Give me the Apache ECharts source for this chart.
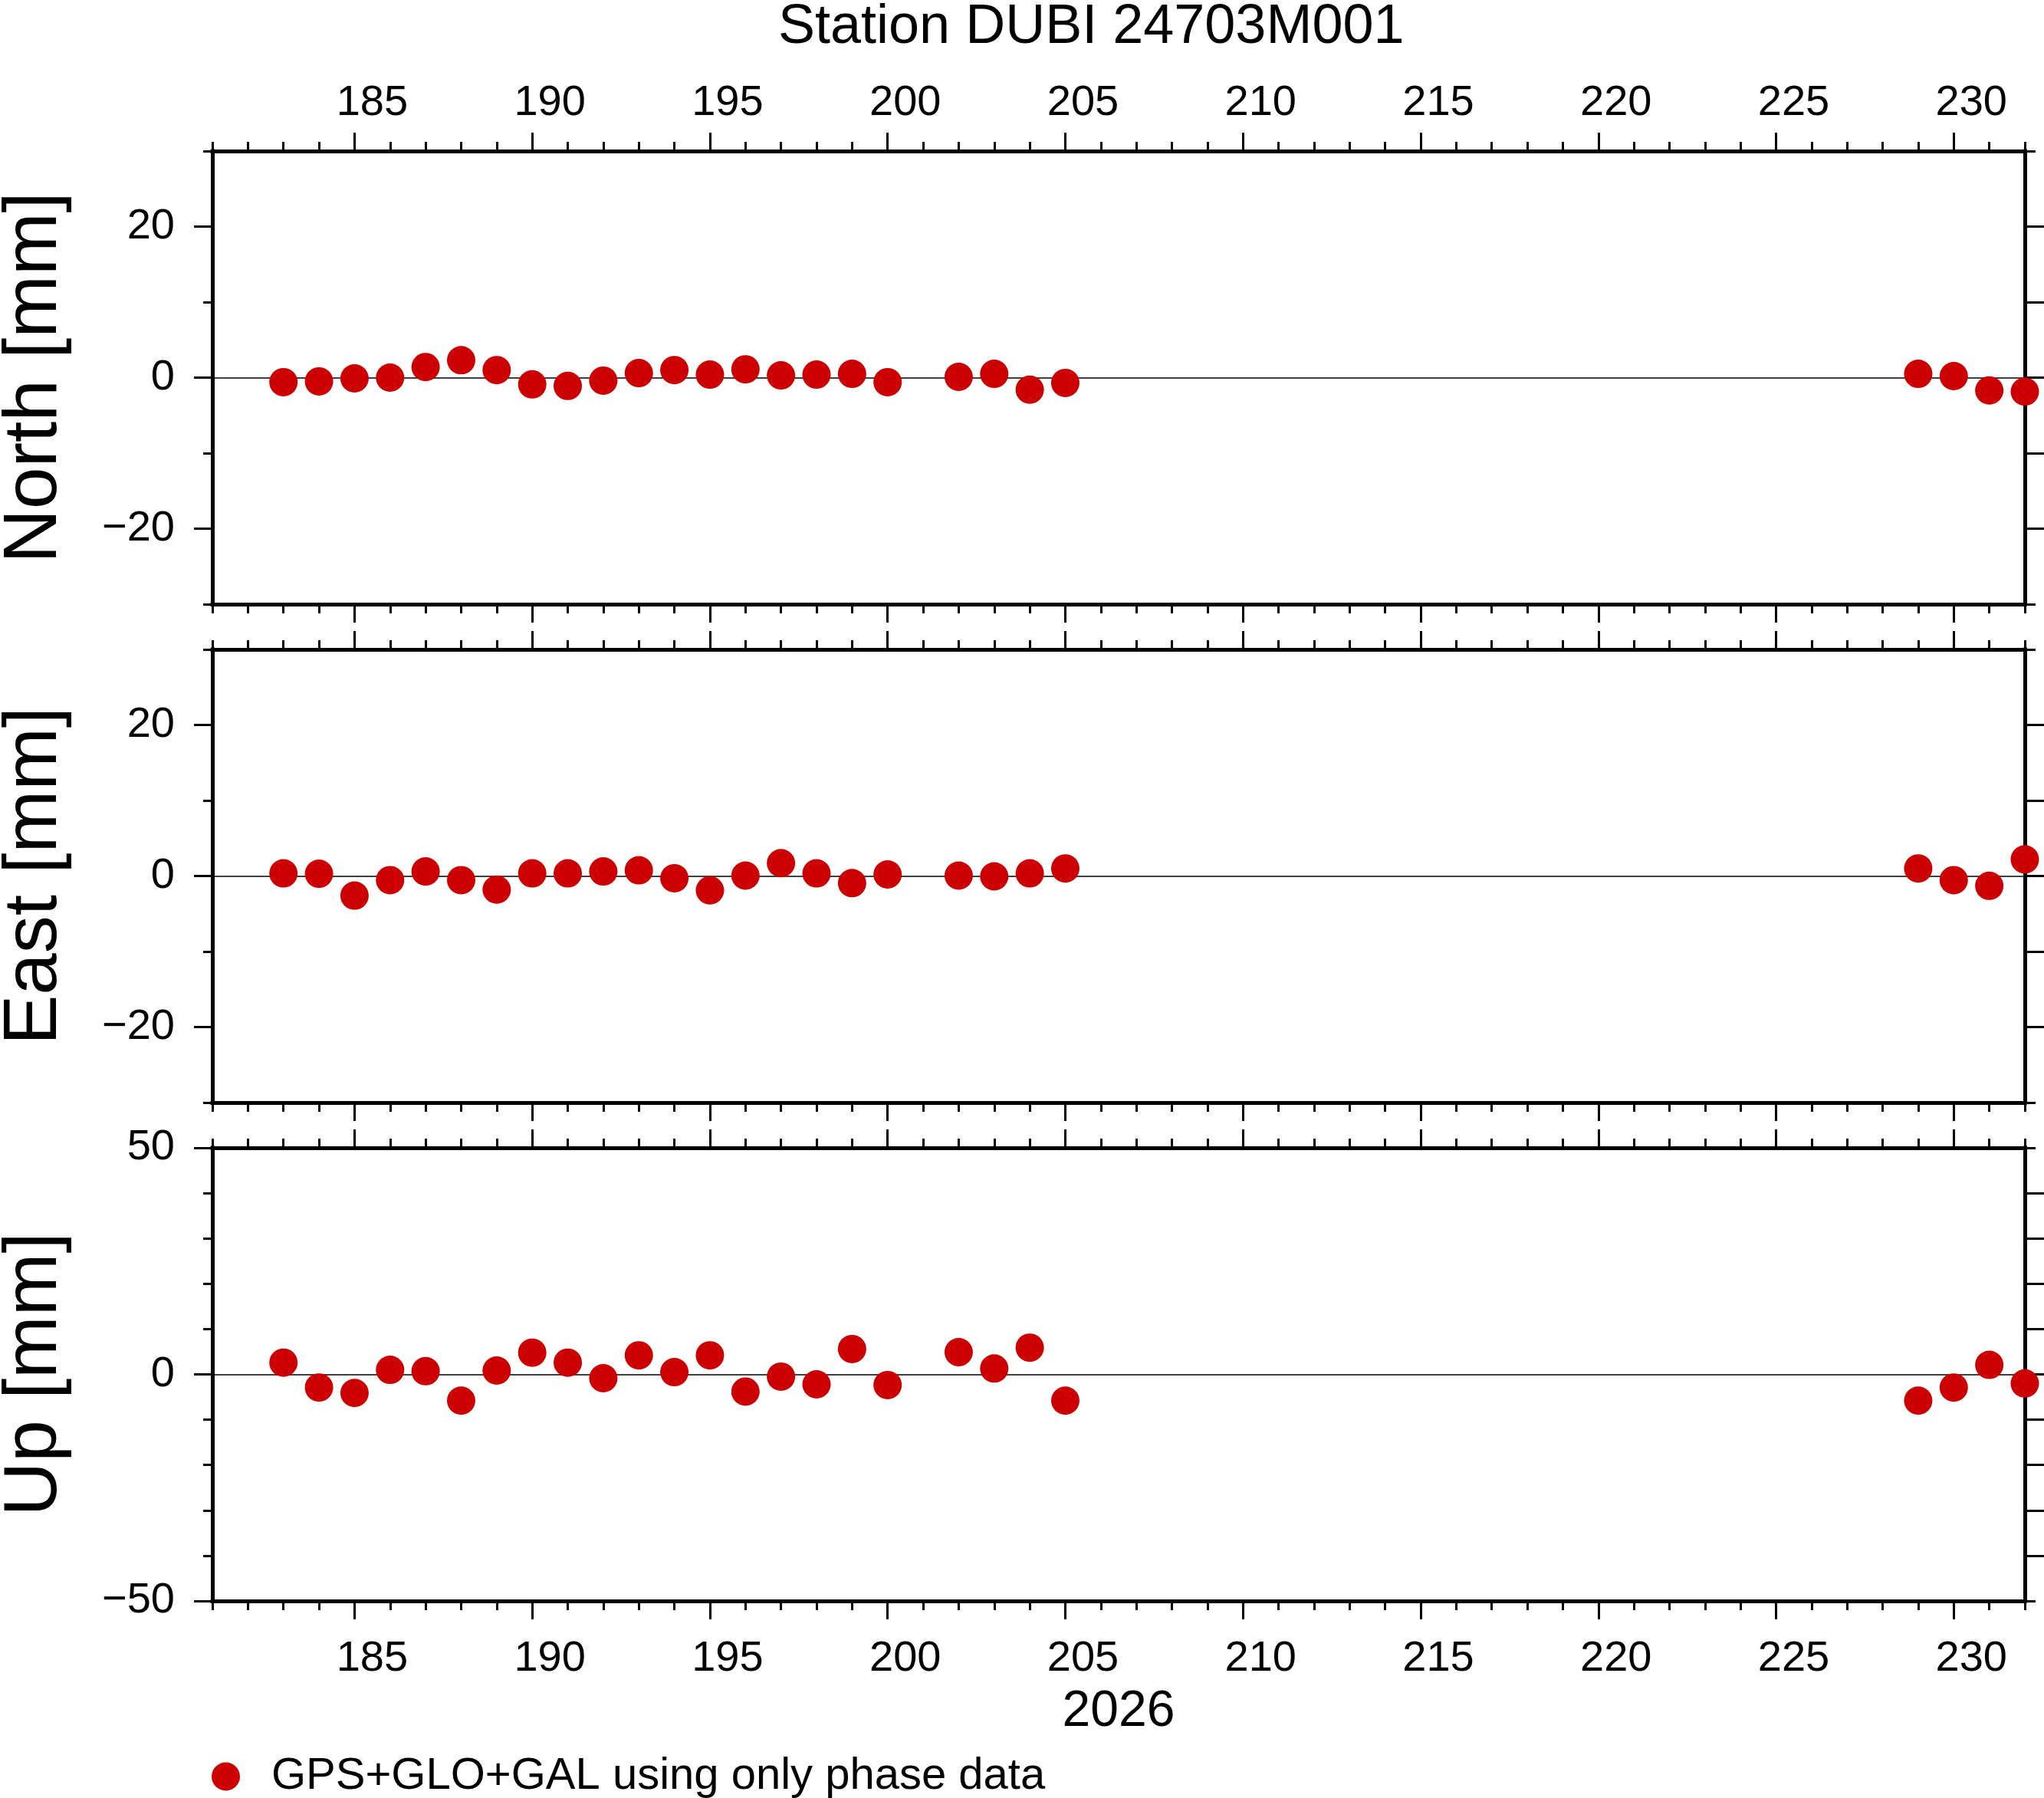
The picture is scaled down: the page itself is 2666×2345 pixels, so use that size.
<!DOCTYPE html>
<html>
<head>
<meta charset="utf-8">
<title>Station DUBI 24703M001</title>
<script src="https://cdn.jsdelivr.net/npm/echarts@6/dist/echarts.min.js"></script>
<style>
  html, body { margin: 0; padding: 0; background: #fff; }
  #chart { width: 2666px; height: 2345px; }
</style>
</head>
<body>
<div id="chart"></div>
<script>
// Station DUBI daily coordinate residuals (mm), day of year 2026

const days = [183, 184, 185, 186, 187, 188, 189, 190, 191, 192, 193, 194, 195, 196, 197, 198, 199, 200,
  202, 203, 204, 205, 229, 230, 231, 232];

const north = [-0.6, -0.5, -0.1, 0.0, 1.4, 2.3, 1.0, -0.9, -1.1, -0.4, 0.6, 1.0, 0.4, 1.1, 0.3, 0.4, 0.5, -0.6,
  0.1, 0.5, -1.6, -0.7, 0.5, 0.2, -1.7, -1.85];

const east = [0.35, 0.3, -2.6, -0.55, 0.6, -0.55, -1.8, 0.35, 0.35, 0.6, 0.75, -0.3, -1.9, 0.05, 1.7, 0.35, -0.95, 0.2,
  0.05, -0.05, 0.35, 1.0, 1.0, -0.55, -1.3, 2.2];

const up = [2.6, -2.9, -4.1, 1.0, 0.7, -5.8, 0.85, 4.8, 2.6, -0.85, 4.2, 0.5, 4.2, -3.8, -0.5, -2.2, 5.6, -2.35,
  4.9, 1.3, 5.9, -5.8, -5.8, -2.9, 2.1, -2.0];

// Axis ranges and tick labels
const xMin = 181, xMax = 232;
const xMajorTicks = [185, 190, 195, 200, 205, 210, 215, 220, 225, 230];
const neMajorTicks = [-20, 0, 20];
const neRightTicks = [-20, -10, 0, 10, 20];
const upMajorTicks = [-50, 0, 50];
const upRightTicks = [-40, -30, -20, -10, 0, 10, 20, 30, 40];

const seriesName = 'GPS+GLO+GAL using only phase data';
const FONT = 'Liberation Sans';
const RED = '#cc0000';

const chart = echarts.init(document.getElementById('chart'));

const panels = [
  { name: 'North [mm]', data: north, min: -30, max: 30, major: neMajorTicks, right: neRightTicks, top: 197, topLabels: true, bottomLabels: false },
  { name: 'East [mm]', data: east, min: -30, max: 30, major: neMajorTicks, right: neRightTicks, top: 847, topLabels: false, bottomLabels: false },
  { name: 'Up [mm]', data: up, min: -50, max: 50, major: upMajorTicks, right: upRightTicks, top: 1497, topLabels: false, bottomLabels: true }
];

const frame = { show: true, onZero: false, lineStyle: { color: '#000', width: 5, cap: 'square' } };
const noLine = { show: false, onZero: false };
const minus = v => String(v).replace('-', '\u2212');

const grids = [];
const xAxes = [];
const yAxes = [];
const series = [];

panels.forEach((p, g) => {
  grids.push({ left: 277, right: 25, top: p.top, height: 591, outerBoundsMode: 'none', containLabel: false });

  // bottom: major ticks (+labels), minor ticks
  xAxes.push({
    gridIndex: g, type: 'value', position: 'bottom', min: xMin, max: xMax,
    axisLine: frame,
    axisTick: { show: true, length: 24, customValues: xMajorTicks, lineStyle: { color: '#000', width: 3 } },
    axisLabel: {
      show: p.bottomLabels, customValues: xMajorTicks, margin: 48, padding: [0, 0, 0, 46],
      color: '#000', fontFamily: FONT, fontSize: 56
    },
    splitLine: { show: false },
    name: p.bottomLabels ? '2026' : '', nameLocation: 'middle', nameGap: 112,
    nameTextStyle: { color: '#000', fontFamily: FONT, fontSize: 66 }
  });
  xAxes.push({
    gridIndex: g, type: 'value', position: 'bottom', min: xMin, max: xMax, interval: 1,
    axisLine: noLine,
    axisTick: { show: true, length: 12, lineStyle: { color: '#000', width: 3 } },
    axisLabel: { show: false }, splitLine: { show: false }
  });
  // top: major ticks (+labels on first panel), minor ticks
  xAxes.push({
    gridIndex: g, type: 'value', position: 'top', min: xMin, max: xMax,
    axisLine: frame,
    axisTick: { show: true, length: 24, customValues: xMajorTicks, lineStyle: { color: '#000', width: 3 } },
    axisLabel: {
      show: p.topLabels, customValues: xMajorTicks, margin: 34, padding: [0, 0, 0, 46],
      color: '#000', fontFamily: FONT, fontSize: 56
    },
    splitLine: { show: false }
  });
  xAxes.push({
    gridIndex: g, type: 'value', position: 'top', min: xMin, max: xMax, interval: 1,
    axisLine: noLine,
    axisTick: { show: true, length: 12, lineStyle: { color: '#000', width: 3 } },
    axisLabel: { show: false }, splitLine: { show: false }
  });

  // left: major ticks with labels and axis name, minor ticks
  yAxes.push({
    gridIndex: g, type: 'value', position: 'left', min: p.min, max: p.max,
    axisLine: frame,
    axisTick: { show: true, length: 24, customValues: p.major, lineStyle: { color: '#000', width: 3 } },
    axisLabel: {
      show: true, customValues: p.major, margin: 49, formatter: minus, padding: [7, 0, 0, 0],
      color: '#000', fontFamily: FONT, fontSize: 56
    },
    splitLine: { show: false },
    name: p.name, nameLocation: 'middle', nameGap: 182,
    nameTextStyle: { color: '#000', fontFamily: FONT, fontSize: 98 }
  });
  yAxes.push({
    gridIndex: g, type: 'value', position: 'left', min: p.min, max: p.max, interval: 10,
    axisLine: noLine,
    axisTick: { show: true, length: 12, lineStyle: { color: '#000', width: 3 } },
    axisLabel: { show: false }, splitLine: { show: false }
  });
  // right: frame line with outward ticks
  yAxes.push({
    gridIndex: g, type: 'value', position: 'right', min: p.min, max: p.max,
    axisLine: frame,
    axisTick: { show: true, length: 30, customValues: p.right, lineStyle: { color: '#000', width: 3 } },
    axisLabel: { show: false }, splitLine: { show: false }
  });
  yAxes.push({
    gridIndex: g, type: 'value', position: 'right', min: p.min, max: p.max, interval: p.max - p.min,
    axisLine: noLine,
    axisTick: { show: true, length: 14, lineStyle: { color: '#000', width: 3 } },
    axisLabel: { show: false }, splitLine: { show: false }
  });

  series.push({
    name: seriesName,
    type: 'scatter',
    xAxisIndex: g * 4,
    yAxisIndex: g * 4,
    symbol: 'circle',
    symbolSize: 37,
    itemStyle: { color: RED, opacity: 1 },
    data: days.map((d, i) => [d, p.data[i]]),
    markLine: {
      silent: true,
      symbol: 'none',
      label: { show: false },
      lineStyle: { color: '#000', width: 1.5, type: 'solid', opacity: 1 },
      data: [{ yAxis: 0 }],
      z: 1
    },
    z: 3
  });
});

chart.setOption({
  backgroundColor: '#fff',
  animation: false,
  graphic: [{
    type: 'text',
    left: 1435 - 420,
    top: 0,
    style: { text: 'Station DUBI 24703M001', fill: '#000', font: '72px "Liberation Sans"' }
  }],
  legend: {
    data: [seriesName],
    left: 276,
    top: 2288,
    padding: 0,
    icon: 'circle',
    itemWidth: 37,
    itemHeight: 37,
    itemStyle: { opacity: 1 },
    textStyle: { color: '#000', fontFamily: FONT, fontSize: 58, padding: [0, 0, 0, 36] }
  },
  grid: grids,
  xAxis: xAxes,
  yAxis: yAxes,
  series: series
});

window.addEventListener('resize', () => chart.resize());
</script>
</body>
</html>
